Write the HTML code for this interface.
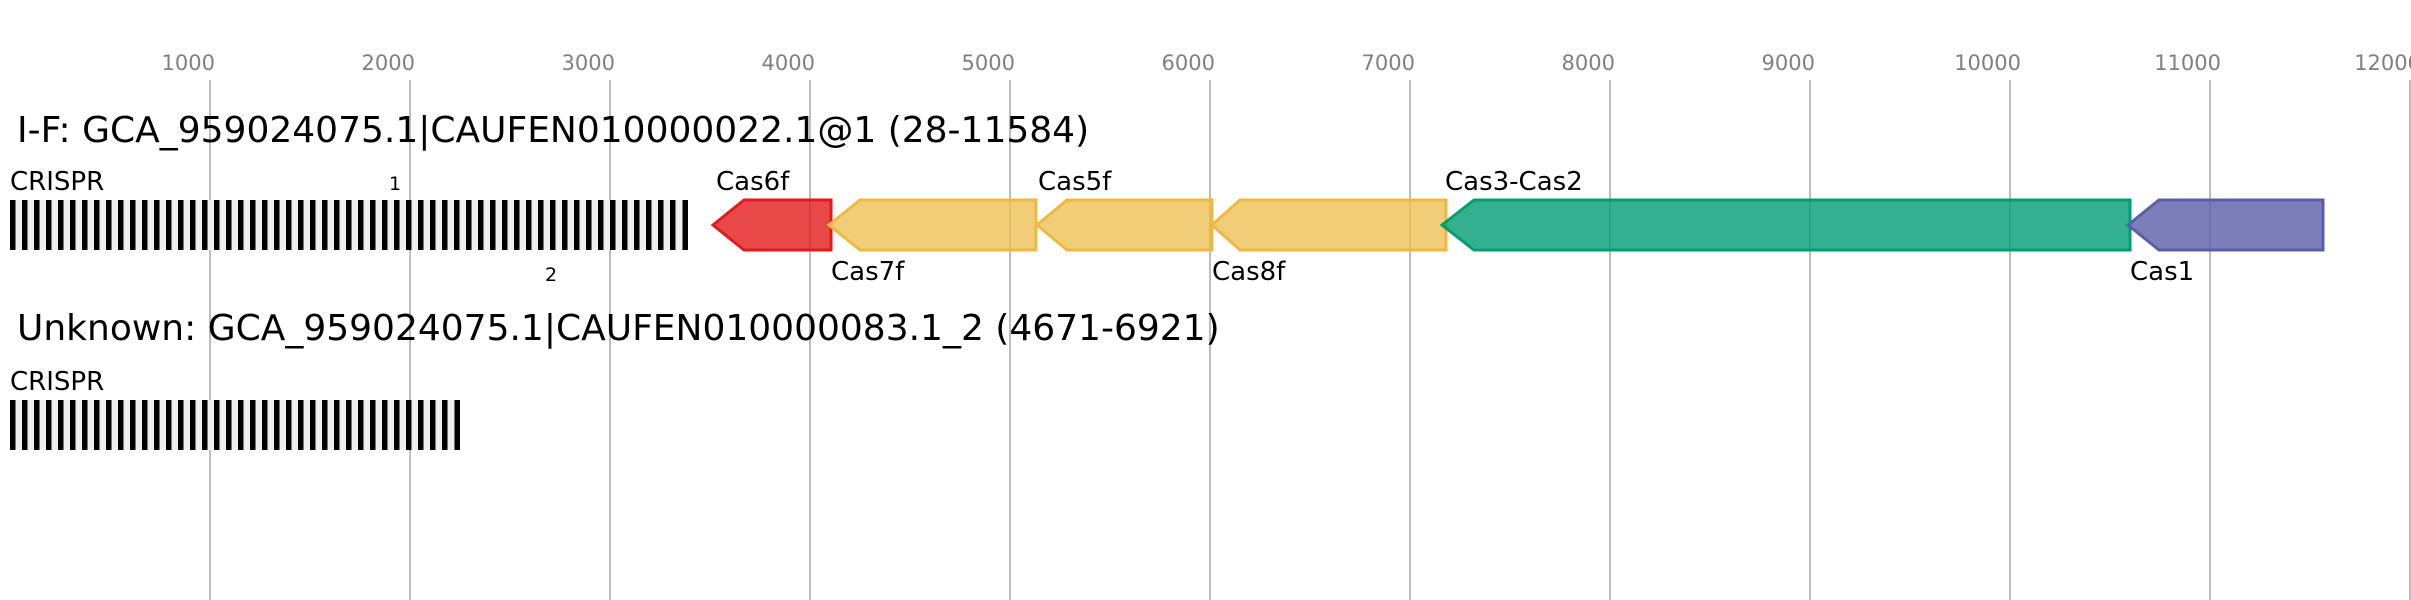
<!DOCTYPE html>
<html><head><meta charset="utf-8"><style>html,body{margin:0;padding:0;background:#fff}svg{display:block}</style></head><body>
<svg width="2411" height="600" xmlns="http://www.w3.org/2000/svg" font-family="'DejaVu Sans','Liberation Sans',sans-serif">
<g stroke="#bdbdbd" stroke-width="2">
<line x1="210" y1="80" x2="210" y2="600"/><line x1="410" y1="80" x2="410" y2="600"/><line x1="610" y1="80" x2="610" y2="600"/><line x1="810" y1="80" x2="810" y2="600"/><line x1="1010" y1="80" x2="1010" y2="600"/><line x1="1210" y1="80" x2="1210" y2="600"/><line x1="1410" y1="80" x2="1410" y2="600"/><line x1="1610" y1="80" x2="1610" y2="600"/><line x1="1810" y1="80" x2="1810" y2="600"/><line x1="2010" y1="80" x2="2010" y2="600"/><line x1="2210" y1="80" x2="2210" y2="600"/><line x1="2410" y1="80" x2="2410" y2="600"/>
</g>
<g fill="#808080" font-size="21" text-anchor="end">
<text x="215" y="70">1000</text><text x="415" y="70">2000</text><text x="615" y="70">3000</text><text x="815" y="70">4000</text><text x="1015" y="70">5000</text><text x="1215" y="70">6000</text><text x="1415" y="70">7000</text><text x="1615" y="70">8000</text><text x="1815" y="70">9000</text><text x="2021" y="70">10000</text><text x="2221" y="70">11000</text><text x="2421" y="70">12000</text>
</g>
<text x="17" y="142" font-size="36">I-F: GCA_959024075.1|CAUFEN010000022.1@1 (28-11584)</text>
<text x="17" y="340" font-size="36">Unknown: GCA_959024075.1|CAUFEN010000083.1_2 (4671-6921)</text>
<g font-size="26">
<text x="10" y="190">CRISPR</text><text x="10" y="390">CRISPR</text>
<text x="716" y="190">Cas6f</text><text x="831" y="280">Cas7f</text><text x="1038" y="190">Cas5f</text><text x="1212" y="280">Cas8f</text><text x="1445" y="190">Cas3-Cas2</text><text x="2130" y="280">Cas1</text>
</g>
<text x="389" y="190" font-size="19">1</text><text x="545" y="281" font-size="19">2</text>
<rect x="10" y="200" width="678" height="50" fill="#efefef"/>
<rect x="10" y="400" width="450" height="50" fill="#efefef"/>
<g id="bars" fill="#000">
<rect x="10" y="200" width="5.5" height="50"/><rect x="22" y="200" width="5.5" height="50"/><rect x="34" y="200" width="5.5" height="50"/><rect x="46" y="200" width="5.5" height="50"/><rect x="58" y="200" width="5.5" height="50"/><rect x="70" y="200" width="5.5" height="50"/><rect x="82" y="200" width="5.5" height="50"/><rect x="94" y="200" width="5.5" height="50"/><rect x="106" y="200" width="5.5" height="50"/><rect x="118" y="200" width="5.5" height="50"/><rect x="130" y="200" width="5.5" height="50"/><rect x="142" y="200" width="5.5" height="50"/><rect x="154" y="200" width="5.5" height="50"/><rect x="166" y="200" width="5.5" height="50"/><rect x="178" y="200" width="5.5" height="50"/><rect x="190" y="200" width="5.5" height="50"/><rect x="202" y="200" width="5.5" height="50"/><rect x="214" y="200" width="5.5" height="50"/><rect x="226" y="200" width="5.5" height="50"/><rect x="238" y="200" width="5.5" height="50"/><rect x="250" y="200" width="5.5" height="50"/><rect x="262" y="200" width="5.5" height="50"/><rect x="274" y="200" width="5.5" height="50"/><rect x="286" y="200" width="5.5" height="50"/><rect x="298" y="200" width="5.5" height="50"/><rect x="310" y="200" width="5.5" height="50"/><rect x="322" y="200" width="5.5" height="50"/><rect x="334" y="200" width="5.5" height="50"/><rect x="346" y="200" width="5.5" height="50"/><rect x="358" y="200" width="5.5" height="50"/><rect x="370" y="200" width="5.5" height="50"/><rect x="382" y="200" width="5.5" height="50"/><rect x="394" y="200" width="5.5" height="50"/><rect x="406" y="200" width="5.5" height="50"/><rect x="418" y="200" width="5.5" height="50"/><rect x="430" y="200" width="5.5" height="50"/><rect x="442" y="200" width="5.5" height="50"/><rect x="454" y="200" width="5.5" height="50"/><rect x="466" y="200" width="5.5" height="50"/><rect x="478" y="200" width="5.5" height="50"/><rect x="490" y="200" width="5.5" height="50"/><rect x="502" y="200" width="5.5" height="50"/><rect x="514" y="200" width="5.5" height="50"/><rect x="526" y="200" width="5.5" height="50"/><rect x="538" y="200" width="5.5" height="50"/><rect x="550" y="200" width="5.5" height="50"/><rect x="562" y="200" width="5.5" height="50"/><rect x="574" y="200" width="5.5" height="50"/><rect x="586" y="200" width="5.5" height="50"/><rect x="598" y="200" width="5.5" height="50"/><rect x="610" y="200" width="5.5" height="50"/><rect x="622" y="200" width="5.5" height="50"/><rect x="634" y="200" width="5.5" height="50"/><rect x="646" y="200" width="5.5" height="50"/><rect x="658" y="200" width="5.5" height="50"/><rect x="670" y="200" width="5.5" height="50"/><rect x="682.5" y="200" width="5.5" height="50"/>
</g>
<g fill="#000">
<rect x="10" y="400" width="5.5" height="50"/><rect x="22" y="400" width="5.5" height="50"/><rect x="34" y="400" width="5.5" height="50"/><rect x="46" y="400" width="5.5" height="50"/><rect x="58" y="400" width="5.5" height="50"/><rect x="70" y="400" width="5.5" height="50"/><rect x="82" y="400" width="5.5" height="50"/><rect x="94" y="400" width="5.5" height="50"/><rect x="106" y="400" width="5.5" height="50"/><rect x="118" y="400" width="5.5" height="50"/><rect x="130" y="400" width="5.5" height="50"/><rect x="142" y="400" width="5.5" height="50"/><rect x="154" y="400" width="5.5" height="50"/><rect x="166" y="400" width="5.5" height="50"/><rect x="178" y="400" width="5.5" height="50"/><rect x="190" y="400" width="5.5" height="50"/><rect x="202" y="400" width="5.5" height="50"/><rect x="214" y="400" width="5.5" height="50"/><rect x="226" y="400" width="5.5" height="50"/><rect x="238" y="400" width="5.5" height="50"/><rect x="250" y="400" width="5.5" height="50"/><rect x="262" y="400" width="5.5" height="50"/><rect x="274" y="400" width="5.5" height="50"/><rect x="286" y="400" width="5.5" height="50"/><rect x="298" y="400" width="5.5" height="50"/><rect x="310" y="400" width="5.5" height="50"/><rect x="322" y="400" width="5.5" height="50"/><rect x="334" y="400" width="5.5" height="50"/><rect x="346" y="400" width="5.5" height="50"/><rect x="358" y="400" width="5.5" height="50"/><rect x="370" y="400" width="5.5" height="50"/><rect x="382" y="400" width="5.5" height="50"/><rect x="394" y="400" width="5.5" height="50"/><rect x="406" y="400" width="5.5" height="50"/><rect x="418" y="400" width="5.5" height="50"/><rect x="430" y="400" width="5.5" height="50"/><rect x="442" y="400" width="5.5" height="50"/><rect x="454.5" y="400" width="5.5" height="50"/>
</g>
<g stroke-width="3" stroke-linejoin="miter">
<polygon points="713,225 744,200 831,200 831,250 744,250" fill="#e41a1c" fill-opacity="0.8" stroke="#e31a1c"/>
<polygon points="829,225 860,200 1036,200 1036,250 860,250" fill="#eebc4a" fill-opacity="0.75" stroke="#f0b840"/>
<polygon points="1037,225 1067,200 1212,200 1212,250 1067,250" fill="#eebc4a" fill-opacity="0.75" stroke="#f0b840"/>
<polygon points="1212,225 1240,200 1446,200 1446,250 1240,250" fill="#eebc4a" fill-opacity="0.75" stroke="#f0b840"/>
<polygon points="1442,225 1474,200 2130,200 2130,250 1474,250" fill="#009e73" fill-opacity="0.8" stroke="#009e73"/>
<polygon points="2128,225 2159,200 2323,200 2323,250 2159,250" fill="#5a5ea8" fill-opacity="0.8" stroke="#5a5ea8"/>
</g>
</svg>
</body></html>
